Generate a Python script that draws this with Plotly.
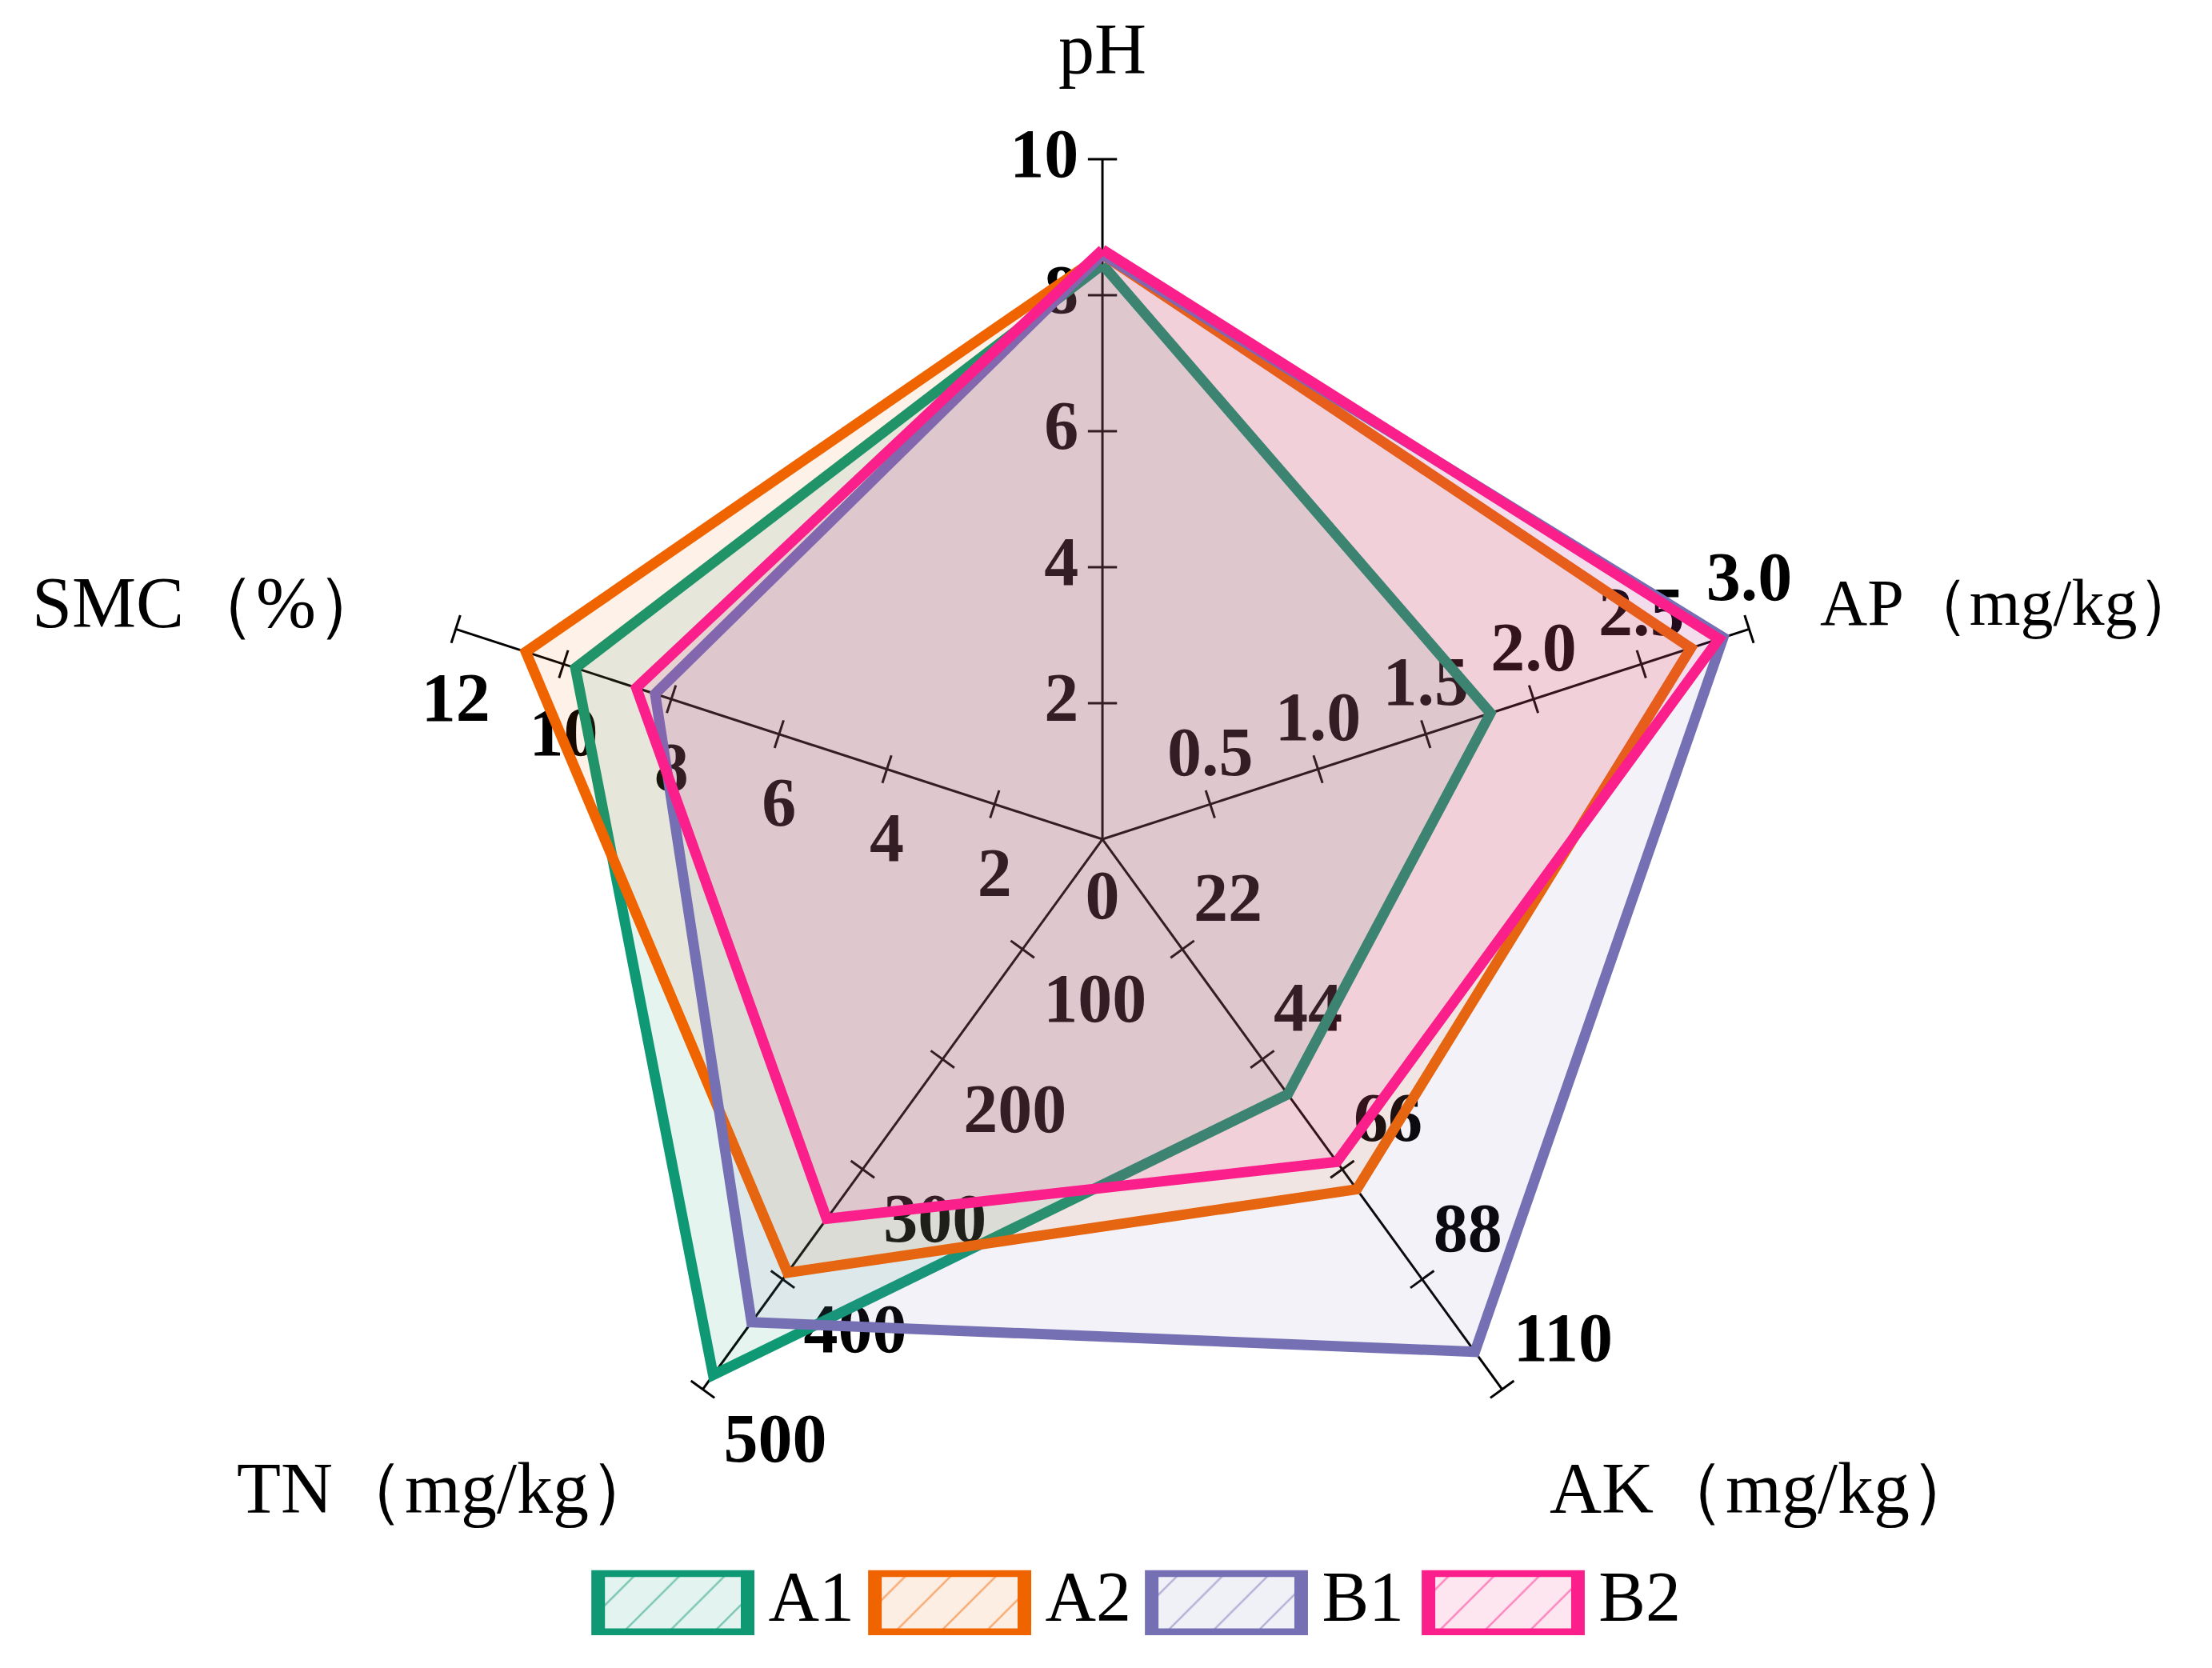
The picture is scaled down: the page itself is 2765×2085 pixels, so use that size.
import plotly.graph_objects as go

# ---------------- data ----------------
categories = ["pH", "AP（mg/kg）", "AK（mg/kg）", "TN（mg/kg）", "SMC（%）"]
axis_max = [10, 3.0, 110, 500, 12]
ticks_pH = [2, 4, 6, 8, 10]
ticks_AP = [0.5, 1.0, 1.5, 2.0, 2.5, 3.0]
ticks_AK = [22, 44, 66, 88, 110]
ticks_TN = [100, 200, 300, 400, 500]
ticks_SMC = [2, 4, 6, 8, 10, 12]
labels_pH = ["2", "4", "6", "8", "10"]
labels_AP = ["0.5", "1.0", "1.5", "2.0", "2.5", "3.0"]
labels_AK = ["22", "44", "66", "88", "110"]
labels_TN = ["100", "200", "300", "400", "500"]
labels_SMC = ["2", "4", "6", "8", "10", "12"]
origin_label = "0"

series_names = ["A1", "A2", "B1", "B2"]
A1 = [8.45, 1.80, 51.0, 487, 9.78]
A2 = [8.60, 2.73, 70.0, 394, 10.70]
B1 = [8.60, 2.88, 102.5, 439, 8.30]
B2 = [8.67, 2.86, 64.5, 345, 8.65]
series_values = [A1, A2, B1, B2]

# ---------------- style ----------------
line_colors = ["#0e9874", "#f06400", "#7570b3", "#fa1f8a"]
fill_colors = ["rgba(27,158,119,0.11)", "rgba(238,100,0,0.09)",
               "rgba(117,112,179,0.09)", "rgba(247,32,138,0.10)"]
legend_bg = ["#e3f3ef", "#fdeee3", "#f0f0f7", "#fde6f0"]
SERIF = "Liberation Serif"

n = len(categories)
thetas = [360.0 * i / n for i in range(n)]

fig = go.Figure()

# ---- axis lines ----
for th in thetas:
    fig.add_trace(go.Scatterpolar(r=[0, 1], theta=[th, th], mode="lines",
                                  line=dict(color="black", width=3),
                                  hoverinfo="skip", cliponaxis=False))

tick_sets = [ticks_pH, ticks_AP, ticks_AK, ticks_TN, ticks_SMC]
label_sets = [labels_pH, labels_AP, labels_AK, labels_TN, labels_SMC]
label_pos = ["middle left", "top center", "top right", "bottom right", "bottom center"]
label_gap = [46, 22, 21, 40, 78]

# ---- ticks ----
for th, tks, mx in zip(thetas, tick_sets, axis_max):
    fig.add_trace(go.Scatterpolar(
        r=[t / mx for t in tks], theta=[th] * len(tks), mode="markers",
        marker=dict(symbol="line-ew", size=26, angle=th,
                    line=dict(width=3, color="black"), color="black"),
        hoverinfo="skip", cliponaxis=False))

# ---- tick labels ----
for th, tks, lbs, mx, pos, gap in zip(thetas, tick_sets, label_sets, axis_max, label_pos, label_gap):
    fig.add_trace(go.Scatterpolar(
        r=[t / mx for t in tks], theta=[th] * len(tks), mode="markers+text",
        text=lbs, textposition=pos,
        marker=dict(size=gap, opacity=0),
        textfont=dict(family=SERIF, size=86, color="black", weight="bold"),
        hoverinfo="skip", cliponaxis=False))
fig.add_trace(go.Scatterpolar(
    r=[0], theta=[0], mode="markers+text", text=[origin_label],
    textposition="bottom center", marker=dict(size=53, opacity=0),
    textfont=dict(family=SERIF, size=86, color="black", weight="bold"),
    hoverinfo="skip", cliponaxis=False))

# ---- series ----
for name, vals, lc, fc in zip(series_names, series_values, line_colors, fill_colors):
    rr = [v / m for v, m in zip(vals, axis_max)]
    fig.add_trace(go.Scatterpolar(
        r=rr + rr[:1], theta=thetas + thetas[:1], mode="lines", fill="toself",
        fillcolor=fc, line=dict(color=lc, width=13), name=name,
        hoverinfo="skip", cliponaxis=False))

# ---- axis titles (annotations) ----
title_x = [0.4955, 0.8190, 0.6971, 0.1033, 0.0110]
title_y = [0.9745, 0.6424, 0.1115, 0.1115, 0.6424]
title_anchor = ["center", "left", "left", "left", "left"]
title_size = [90, 82, 90, 90, 90]
annotations = []
for txt, x, y, xa, fs in zip(categories, title_x, title_y, title_anchor, title_size):
    annotations.append(dict(text=txt, x=x, y=y, xref="paper", yref="paper",
                            xanchor=xa, yanchor="middle", showarrow=False,
                            font=dict(family=SERIF, size=fs, color="black")))

# ---- legend (drawn as a small bar strip) ----
for i, (name, lc, bg) in enumerate(zip(series_names, line_colors, legend_bg)):
    fig.add_trace(go.Bar(
        x=[i], y=[1], width=0.54,
        marker=dict(color=bg, line=dict(color=lc, width=17),
                    pattern=dict(shape="/", fgcolor=lc, bgcolor=bg, size=40, solidity=0.06)),
        xaxis="x2", yaxis="y2", hoverinfo="skip"))
fig.add_trace(go.Scatter(
    x=[i + 0.345 for i in range(len(series_names))], y=[0.5] * len(series_names),
    mode="text", text=series_names, textposition="middle right",
    textfont=dict(family=SERIF, size=88, color="black"),
    xaxis="x2", yaxis="y2", hoverinfo="skip", cliponaxis=False))

fig.update_layout(
    width=2765, height=2085,
    paper_bgcolor="white", plot_bgcolor="rgba(0,0,0,0)",
    margin=dict(l=0, r=0, t=0, b=0),
    showlegend=False,
    annotations=annotations,
    polar=dict(
        domain=dict(x=[0.1881, 0.8029], y=[0.0930, 0.9084]),
        bgcolor="rgba(0,0,0,0)",
        radialaxis=dict(range=[0, 1], visible=False, showgrid=False, showline=False),
        angularaxis=dict(rotation=90, direction="clockwise", visible=False,
                         showgrid=False, showline=False, showticklabels=False, ticks=""),
    ),
    xaxis2=dict(domain=[0, 1], range=[-2.408, 5.584], visible=False, fixedrange=True, anchor="y2"),
    yaxis2=dict(domain=[0.0235, 0.0625], range=[0, 1], visible=False, fixedrange=True, anchor="x2"),
    barmode="overlay",
)

fig.write_html("out.html")
